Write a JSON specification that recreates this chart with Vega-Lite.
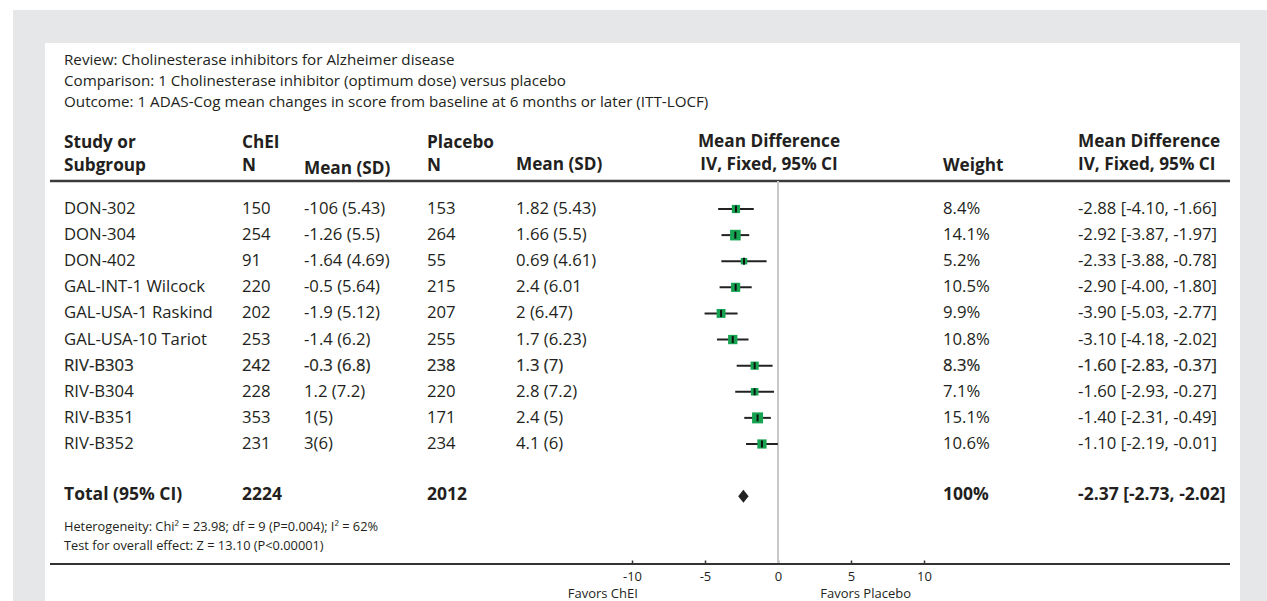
{
  "$schema": "https://vega.github.io/schema/vega-lite/v6.json",
  "background": "white",
  "padding": {"left": 13, "top": 10, "right": 0, "bottom": 0},
  "config": {
    "view": {"stroke": null},
    "concat": {"spacing": 0},
    "axis": {"grid": false, "domain": false},
    "text": {"font": "Open Sans", "color": "#231f20", "align": "left", "baseline": "middle"}
  },
  "datasets": {
    "rows": [
      {"id": "r1", "study": "DON-302", "n1": "150", "m1": "-106 (5.43)", "n2": "153", "m2": "1.82 (5.43)", "w": 8.4, "wt": "8.4%", "md": -2.88, "lo": -4.10, "hi": -1.66, "ci": "-2.88 [-4.10, -1.66]"},
      {"id": "r2", "study": "DON-304", "n1": "254", "m1": "-1.26 (5.5)", "n2": "264", "m2": "1.66 (5.5)", "w": 14.1, "wt": "14.1%", "md": -2.92, "lo": -3.87, "hi": -1.97, "ci": "-2.92 [-3.87, -1.97]"},
      {"id": "r3", "study": "DON-402", "n1": "91", "m1": "-1.64 (4.69)", "n2": "55", "m2": "0.69 (4.61)", "w": 5.2, "wt": "5.2%", "md": -2.33, "lo": -3.88, "hi": -0.78, "ci": "-2.33 [-3.88, -0.78]"},
      {"id": "r4", "study": "GAL-INT-1 Wilcock", "n1": "220", "m1": "-0.5 (5.64)", "n2": "215", "m2": "2.4 (6.01", "w": 10.5, "wt": "10.5%", "md": -2.90, "lo": -4.00, "hi": -1.80, "ci": "-2.90 [-4.00, -1.80]"},
      {"id": "r5", "study": "GAL-USA-1 Raskind", "n1": "202", "m1": "-1.9 (5.12)", "n2": "207", "m2": "2 (6.47)", "w": 9.9, "wt": "9.9%", "md": -3.90, "lo": -5.03, "hi": -2.77, "ci": "-3.90 [-5.03, -2.77]"},
      {"id": "r6", "study": "GAL-USA-10 Tariot", "n1": "253", "m1": "-1.4 (6.2)", "n2": "255", "m2": "1.7 (6.23)", "w": 10.8, "wt": "10.8%", "md": -3.10, "lo": -4.18, "hi": -2.02, "ci": "-3.10 [-4.18, -2.02]"},
      {"id": "r7", "study": "RIV-B303", "n1": "242", "m1": "-0.3 (6.8)", "n2": "238", "m2": "1.3 (7)", "w": 8.3, "wt": "8.3%", "md": -1.60, "lo": -2.83, "hi": -0.37, "ci": "-1.60 [-2.83, -0.37]"},
      {"id": "r8", "study": "RIV-B304", "n1": "228", "m1": "1.2 (7.2)", "n2": "220", "m2": "2.8 (7.2)", "w": 7.1, "wt": "7.1%", "md": -1.60, "lo": -2.93, "hi": -0.27, "ci": "-1.60 [-2.93, -0.27]"},
      {"id": "r9", "study": "RIV-B351", "n1": "353", "m1": "1(5)", "n2": "171", "m2": "2.4 (5)", "w": 15.1, "wt": "15.1%", "md": -1.40, "lo": -2.31, "hi": -0.49, "ci": "-1.40 [-2.31, -0.49]"},
      {"id": "r10", "study": "RIV-B352", "n1": "231", "m1": "3(6)", "n2": "234", "m2": "4.1 (6)", "w": 10.6, "wt": "10.6%", "md": -1.10, "lo": -2.19, "hi": -0.01, "ci": "-1.10 [-2.19, -0.01]"}
    ],
    "total": [
      {"id": "total", "study": "Total (95% CI)", "n1": "2224", "n2": "2012", "wt": "100%", "md": -2.37, "lo": -2.73, "hi": -2.02, "ci": "-2.37 [-2.73, -2.02]"}
    ],
    "title": [
      {"line": "t1", "text": "Review: Cholinesterase inhibitors for Alzheimer disease"},
      {"line": "t2", "text": "Comparison: 1 Cholinesterase inhibitor (optimum dose) versus placebo"},
      {"line": "t3", "text": "Outcome: 1 ADAS-Cog mean changes in score from baseline at 6 months or later (ITT-LOCF)"}
    ],
    "footer": [
      {"line": "f1", "text": "Heterogeneity: Chi² = 23.98; df = 9 (P=0.004); I² = 62%"},
      {"line": "f2", "text": "Test for overall effect: Z = 13.10 (P<0.00001)"}
    ],
    "headers": [
      {"col": "study", "line": "h1", "text": "Study or"},
      {"col": "study", "line": "h2", "text": "Subgroup"},
      {"col": "n1", "line": "h1", "text": "ChEI"},
      {"col": "n1", "line": "h2", "text": "N"},
      {"col": "m1", "line": "h2", "text": "Mean (SD)"},
      {"col": "n2", "line": "h1", "text": "Placebo"},
      {"col": "n2", "line": "h2", "text": "N"},
      {"col": "m2", "line": "h2", "text": "Mean (SD)"},
      {"col": "fp", "line": "h1", "text": "Mean Difference"},
      {"col": "fp", "line": "h2", "text": "IV, Fixed, 95% CI"},
      {"col": "wt", "line": "h2", "text": "Weight"},
      {"col": "ci", "line": "h1", "text": "Mean Difference"},
      {"col": "ci", "line": "h2", "text": "IV, Fixed, 95% CI"}
    ]
  },
  "spacing": 0,
  "bounds": "full",
  "resolve": {"scale": {"x": "independent", "y": "independent", "size": "independent"}},
  "vconcat": [
    {"width": 1254, "height": 33, "view": {"fill": "#e6e7e8", "stroke": null}, "data": {"values": []}, "mark": "text", "encoding": {}},
    {
      "spacing": 0,
      "bounds": "full",
      "resolve": {"scale": {"x": "independent", "y": "independent", "size": "independent"}},
      "hconcat": [
        {"width": 32, "height": 558, "view": {"fill": "#e6e7e8", "stroke": null}, "data": {"values": []}, "mark": "text", "encoding": {}},
        {
          "columns": 11,
          "spacing": 0,
          "bounds": "flush",
          "align": "each",
          "resolve": {"scale": {"x": "independent", "y": "independent", "size": "independent"}},
          "concat": [
            {"width": 5, "height": 138, "data": {"values": []}, "mark": "text", "encoding": {}},
            {"width": 14, "height": 138, "data": {"values": [{}]}, "mark": {"type": "rule", "color": "#3a3a3a", "strokeWidth": 2.5}, "encoding": {"y": {"value": "height"}}},
            {
              "width": 178, "height": 138,
              "resolve": {"scale": {"y": "independent"}},
              "layer": [
                {"data": {"name": "title"}, "mark": {"type": "text", "fontSize": 15.2},
                 "encoding": {"x": {"value": 0}, "y": {"field": "line", "type": "nominal", "scale": {"type": "point", "domain": ["t1", "t2", "t3"], "range": [17, 59], "padding": 0}, "axis": null}, "text": {"field": "text"}}},
                {"data": {"name": "headers"}, "transform": [{"filter": "datum.col == 'study'"}], "mark": {"type": "text", "fontSize": 17.2, "fontWeight": "bold"},
                 "encoding": {"x": {"value": 0}, "y": {"field": "line", "type": "nominal", "scale": {"type": "point", "domain": ["h1", "h2"], "range": [100, 123], "padding": 0}, "axis": null}, "text": {"field": "text"}}},
                {"data": {"values": [{}]}, "mark": {"type": "rule", "color": "#3a3a3a", "strokeWidth": 2.5}, "encoding": {"y": {"value": "height"}}}
              ]
            },
            {
              "width": 62, "height": 138,
              "layer": [
                {"data": {"name": "headers"}, "transform": [{"filter": "datum.col == 'n1'"}], "mark": {"type": "text", "fontSize": 17.2, "fontWeight": "bold"},
                 "encoding": {"x": {"value": 0}, "y": {"field": "line", "type": "nominal", "scale": {"type": "point", "domain": ["h1", "h2"], "range": [100, 123], "padding": 0}, "axis": null}, "text": {"field": "text"}}},
                {"data": {"values": [{}]}, "mark": {"type": "rule", "color": "#3a3a3a", "strokeWidth": 2.5}, "encoding": {"y": {"value": "height"}}}
              ]
            },
            {
              "width": 123, "height": 138,
              "layer": [
                {"data": {"name": "headers"}, "transform": [{"filter": "datum.col == 'm1'"}], "mark": {"type": "text", "fontSize": 17.2, "fontWeight": "bold", "dy": 3},
                 "encoding": {"x": {"value": 0}, "y": {"field": "line", "type": "nominal", "scale": {"type": "point", "domain": ["h1", "h2"], "range": [100, 123], "padding": 0}, "axis": null}, "text": {"field": "text"}}},
                {"data": {"values": [{}]}, "mark": {"type": "rule", "color": "#3a3a3a", "strokeWidth": 2.5}, "encoding": {"y": {"value": "height"}}}
              ]
            },
            {
              "width": 89, "height": 138,
              "layer": [
                {"data": {"name": "headers"}, "transform": [{"filter": "datum.col == 'n2'"}], "mark": {"type": "text", "fontSize": 17.2, "fontWeight": "bold"},
                 "encoding": {"x": {"value": 0}, "y": {"field": "line", "type": "nominal", "scale": {"type": "point", "domain": ["h1", "h2"], "range": [100, 123], "padding": 0}, "axis": null}, "text": {"field": "text"}}},
                {"data": {"values": [{}]}, "mark": {"type": "rule", "color": "#3a3a3a", "strokeWidth": 2.5}, "encoding": {"y": {"value": "height"}}}
              ]
            },
            {
              "width": 89, "height": 138,
              "layer": [
                {"data": {"name": "headers"}, "transform": [{"filter": "datum.col == 'm2'"}], "mark": {"type": "text", "fontSize": 17.2, "fontWeight": "bold", "dy": -1},
                 "encoding": {"x": {"value": 0}, "y": {"field": "line", "type": "nominal", "scale": {"type": "point", "domain": ["h1", "h2"], "range": [100, 123], "padding": 0}, "axis": null}, "text": {"field": "text"}}},
                {"data": {"values": [{}]}, "mark": {"type": "rule", "color": "#3a3a3a", "strokeWidth": 2.5}, "encoding": {"y": {"value": "height"}}}
              ]
            },
            {
              "width": 338, "height": 138,
              "layer": [
                {"data": {"name": "headers"}, "transform": [{"filter": "datum.col == 'fp'"}], "mark": {"type": "text", "fontSize": 17.2, "fontWeight": "bold", "align": "center", "dx": -5, "dy": -1},
                 "encoding": {"y": {"field": "line", "type": "nominal", "scale": {"type": "point", "domain": ["h1", "h2"], "range": [100, 123], "padding": 0}, "axis": null}, "text": {"field": "text"}}},
                {"data": {"values": [{}]}, "mark": {"type": "rule", "color": "#3a3a3a", "strokeWidth": 2.5}, "encoding": {"y": {"value": "height"}}}
              ]
            },
            {
              "width": 135, "height": 138,
              "layer": [
                {"data": {"name": "headers"}, "transform": [{"filter": "datum.col == 'wt'"}], "mark": {"type": "text", "fontSize": 17.2, "fontWeight": "bold"},
                 "encoding": {"x": {"value": 0}, "y": {"field": "line", "type": "nominal", "scale": {"type": "point", "domain": ["h1", "h2"], "range": [100, 123], "padding": 0}, "axis": null}, "text": {"field": "text"}}},
                {"data": {"values": [{}]}, "mark": {"type": "rule", "color": "#3a3a3a", "strokeWidth": 2.5}, "encoding": {"y": {"value": "height"}}}
              ]
            },
            {
              "width": 152, "height": 138,
              "layer": [
                {"data": {"name": "headers"}, "transform": [{"filter": "datum.col == 'ci'"}], "mark": {"type": "text", "fontSize": 17.2, "fontWeight": "bold", "dy": -1},
                 "encoding": {"x": {"value": 0}, "y": {"field": "line", "type": "nominal", "scale": {"type": "point", "domain": ["h1", "h2"], "range": [100, 123], "padding": 0}, "axis": null}, "text": {"field": "text"}}},
                {"data": {"values": [{}]}, "mark": {"type": "rule", "color": "#3a3a3a", "strokeWidth": 2.5}, "encoding": {"y": {"value": "height"}}}
              ]
            },
            {"width": 10, "height": 138, "data": {"values": []}, "mark": "text", "encoding": {}},

            {"width": 5, "height": 383, "data": {"values": []}, "mark": "text", "encoding": {}},
            {"width": 14, "height": 383, "data": {"values": [{}]}, "mark": {"type": "rule", "color": "#333333", "strokeWidth": 2}, "encoding": {"y": {"value": "height"}}},
            {
              "width": 178, "height": 383,
              "resolve": {"scale": {"y": "independent"}},
              "layer": [
                {"data": {"name": "rows"}, "mark": {"type": "text", "fontSize": 16.7, "stroke": "#231f20"},
                 "encoding": {"x": {"value": 0}, "y": {"field": "id", "type": "nominal", "scale": {"type": "point", "domain": ["r1", "r2", "r3", "r4", "r5", "r6", "r7", "r8", "r9", "r10", "gap", "total"], "range": [28, 315.2], "padding": 0}, "axis": null}, "text": {"field": "study"}, "strokeWidth": {"condition": {"test": "datum.id == 'r7'", "value": 0.2}, "value": 0}}},
                {"data": {"name": "total"}, "mark": {"type": "text", "fontSize": 17.5, "fontWeight": "bold", "dy": -1},
                 "encoding": {"x": {"value": 0}, "y": {"field": "id", "type": "nominal", "scale": {"type": "point", "domain": ["r1", "r2", "r3", "r4", "r5", "r6", "r7", "r8", "r9", "r10", "gap", "total"], "range": [28, 315.2], "padding": 0}, "axis": null}, "text": {"field": "study"}}},
                {"data": {"name": "footer"}, "mark": {"type": "text", "fontSize": 12.8},
                 "encoding": {"x": {"value": 0}, "y": {"field": "line", "type": "nominal", "scale": {"type": "point", "domain": ["f1", "f2"], "range": [346, 365], "padding": 0}, "axis": null}, "text": {"field": "text"}}},
                {"data": {"values": [{}]}, "mark": {"type": "rule", "color": "#333333", "strokeWidth": 2}, "encoding": {"y": {"value": "height"}}}
              ]
            },
            {
              "width": 62, "height": 383,
              "layer": [
                {"data": {"name": "rows"}, "mark": {"type": "text", "fontSize": 16.7, "stroke": "#231f20"},
                 "encoding": {"x": {"value": 0}, "y": {"field": "id", "type": "nominal", "scale": {"type": "point", "domain": ["r1", "r2", "r3", "r4", "r5", "r6", "r7", "r8", "r9", "r10", "gap", "total"], "range": [28, 315.2], "padding": 0}, "axis": null}, "text": {"field": "n1"}, "strokeWidth": {"condition": {"test": "datum.id == 'r7'", "value": 0.2}, "value": 0}}},
                {"data": {"name": "total"}, "mark": {"type": "text", "fontSize": 17.5, "fontWeight": "bold", "dy": -1},
                 "encoding": {"x": {"value": 0}, "y": {"field": "id", "type": "nominal", "scale": {"type": "point", "domain": ["r1", "r2", "r3", "r4", "r5", "r6", "r7", "r8", "r9", "r10", "gap", "total"], "range": [28, 315.2], "padding": 0}, "axis": null}, "text": {"field": "n1"}}},
                {"data": {"values": [{}]}, "mark": {"type": "rule", "color": "#333333", "strokeWidth": 2}, "encoding": {"y": {"value": "height"}}}
              ]
            },
            {
              "width": 123, "height": 383,
              "layer": [
                {"data": {"name": "rows"}, "mark": {"type": "text", "fontSize": 16.7, "stroke": "#231f20"},
                 "encoding": {"x": {"value": 0}, "y": {"field": "id", "type": "nominal", "scale": {"type": "point", "domain": ["r1", "r2", "r3", "r4", "r5", "r6", "r7", "r8", "r9", "r10", "gap", "total"], "range": [28, 315.2], "padding": 0}, "axis": null}, "text": {"field": "m1"}, "strokeWidth": {"condition": {"test": "datum.id == 'r7'", "value": 0.2}, "value": 0}}},
                {"data": {"values": [{}]}, "mark": {"type": "rule", "color": "#333333", "strokeWidth": 2}, "encoding": {"y": {"value": "height"}}}
              ]
            },
            {
              "width": 89, "height": 383,
              "layer": [
                {"data": {"name": "rows"}, "mark": {"type": "text", "fontSize": 16.7, "stroke": "#231f20"},
                 "encoding": {"x": {"value": 0}, "y": {"field": "id", "type": "nominal", "scale": {"type": "point", "domain": ["r1", "r2", "r3", "r4", "r5", "r6", "r7", "r8", "r9", "r10", "gap", "total"], "range": [28, 315.2], "padding": 0}, "axis": null}, "text": {"field": "n2"}, "strokeWidth": {"condition": {"test": "datum.id == 'r7'", "value": 0.2}, "value": 0}}},
                {"data": {"name": "total"}, "mark": {"type": "text", "fontSize": 17.5, "fontWeight": "bold", "dy": -1},
                 "encoding": {"x": {"value": 0}, "y": {"field": "id", "type": "nominal", "scale": {"type": "point", "domain": ["r1", "r2", "r3", "r4", "r5", "r6", "r7", "r8", "r9", "r10", "gap", "total"], "range": [28, 315.2], "padding": 0}, "axis": null}, "text": {"field": "n2"}}},
                {"data": {"values": [{}]}, "mark": {"type": "rule", "color": "#333333", "strokeWidth": 2}, "encoding": {"y": {"value": "height"}}}
              ]
            },
            {
              "width": 89, "height": 383,
              "layer": [
                {"data": {"name": "rows"}, "mark": {"type": "text", "fontSize": 16.7, "stroke": "#231f20"},
                 "encoding": {"x": {"value": 0}, "y": {"field": "id", "type": "nominal", "scale": {"type": "point", "domain": ["r1", "r2", "r3", "r4", "r5", "r6", "r7", "r8", "r9", "r10", "gap", "total"], "range": [28, 315.2], "padding": 0}, "axis": null}, "text": {"field": "m2"}, "strokeWidth": {"condition": {"test": "datum.id == 'r7'", "value": 0.2}, "value": 0}}},
                {"data": {"values": [{}]}, "mark": {"type": "rule", "color": "#333333", "strokeWidth": 2}, "encoding": {"y": {"value": "height"}}}
              ]
            },
            {
              "width": 338, "height": 383,
              "layer": [
                {"data": {"values": [{}]}, "mark": {"type": "rule", "color": "#c8c8c8", "strokeWidth": 2},
                 "encoding": {"x": {"datum": 0, "type": "quantitative", "scale": {"domain": [-11.849, 11.301], "nice": false, "zero": false},
                   "axis": {"values": [-10, -5, 0, 5, 10], "title": null, "domain": false, "grid": false, "ticks": true, "tickSize": 4, "tickWidth": 1.5, "tickColor": "#333333", "offset": -4, "labelPadding": 6.5, "labelFont": "Open Sans", "labelFontSize": 13, "labelColor": "#231f20", "labelExpr": "'' + datum.value", "labelFlush": false, "labelOverlap": false}}}},
                {"data": {"name": "rows"}, "mark": {"type": "rule", "color": "#222222", "strokeWidth": 2},
                 "encoding": {"x": {"field": "lo", "type": "quantitative"}, "x2": {"field": "hi"}, "y": {"field": "id", "type": "nominal", "scale": {"type": "point", "domain": ["r1", "r2", "r3", "r4", "r5", "r6", "r7", "r8", "r9", "r10", "gap", "total"], "range": [28, 315.2], "padding": 0}, "axis": null}}},
                {"data": {"name": "rows"}, "mark": {"type": "point", "shape": "square", "filled": true, "color": "#16a452", "opacity": 1},
                 "encoding": {"x": {"field": "md", "type": "quantitative"}, "y": {"field": "id", "type": "nominal", "axis": null}, "size": {"field": "w", "type": "quantitative", "scale": {"domain": [0, 15.1], "range": [0, 121]}, "legend": null}}},
                {"data": {"name": "rows"}, "mark": {"type": "tick", "color": "#111111", "thickness": 2, "size": 7, "opacity": 1},
                 "encoding": {"x": {"field": "md", "type": "quantitative"}, "y": {"field": "id", "type": "nominal", "axis": null}}},
                {"data": {"name": "total"}, "mark": {"type": "point", "shape": "M-0.8,0L0,-1L0.8,0L0,1Z", "filled": true, "color": "#222222", "opacity": 1, "size": 169},
                 "encoding": {"x": {"field": "md", "type": "quantitative"}, "y": {"field": "id", "type": "nominal", "axis": null}}},
                {"data": {"values": [{}]}, "mark": {"type": "text", "fontSize": 13, "align": "center", "dy": 30, "text": "Favors ChEI"},
                 "encoding": {"x": {"datum": -12, "type": "quantitative"}, "y": {"value": "height"}}},
                {"data": {"values": [{}]}, "mark": {"type": "text", "fontSize": 13, "align": "center", "dy": 30, "text": "Favors Placebo"},
                 "encoding": {"x": {"datum": 6, "type": "quantitative"}, "y": {"value": "height"}}},
                {"data": {"values": [{}]}, "mark": {"type": "rule", "color": "#333333", "strokeWidth": 2}, "encoding": {"y": {"value": "height"}}}
              ]
            },
            {
              "width": 135, "height": 383,
              "layer": [
                {"data": {"name": "rows"}, "mark": {"type": "text", "fontSize": 16.7, "stroke": "#231f20"},
                 "encoding": {"x": {"value": 0}, "y": {"field": "id", "type": "nominal", "scale": {"type": "point", "domain": ["r1", "r2", "r3", "r4", "r5", "r6", "r7", "r8", "r9", "r10", "gap", "total"], "range": [28, 315.2], "padding": 0}, "axis": null}, "text": {"field": "wt"}, "strokeWidth": {"condition": {"test": "datum.id == 'r7'", "value": 0.2}, "value": 0}}},
                {"data": {"name": "total"}, "mark": {"type": "text", "fontSize": 17.5, "fontWeight": "bold", "dy": -1},
                 "encoding": {"x": {"value": 0}, "y": {"field": "id", "type": "nominal", "scale": {"type": "point", "domain": ["r1", "r2", "r3", "r4", "r5", "r6", "r7", "r8", "r9", "r10", "gap", "total"], "range": [28, 315.2], "padding": 0}, "axis": null}, "text": {"field": "wt"}}},
                {"data": {"values": [{}]}, "mark": {"type": "rule", "color": "#333333", "strokeWidth": 2}, "encoding": {"y": {"value": "height"}}}
              ]
            },
            {
              "width": 152, "height": 383,
              "layer": [
                {"data": {"name": "rows"}, "mark": {"type": "text", "fontSize": 16.7, "stroke": "#231f20"},
                 "encoding": {"x": {"value": 0}, "y": {"field": "id", "type": "nominal", "scale": {"type": "point", "domain": ["r1", "r2", "r3", "r4", "r5", "r6", "r7", "r8", "r9", "r10", "gap", "total"], "range": [28, 315.2], "padding": 0}, "axis": null}, "text": {"field": "ci"}, "strokeWidth": {"condition": {"test": "datum.id == 'r7'", "value": 0.2}, "value": 0}}},
                {"data": {"name": "total"}, "mark": {"type": "text", "fontSize": 17.5, "fontWeight": "bold", "dy": -1},
                 "encoding": {"x": {"value": 0}, "y": {"field": "id", "type": "nominal", "scale": {"type": "point", "domain": ["r1", "r2", "r3", "r4", "r5", "r6", "r7", "r8", "r9", "r10", "gap", "total"], "range": [28, 315.2], "padding": 0}, "axis": null}, "text": {"field": "ci"}}},
                {"data": {"values": [{}]}, "mark": {"type": "rule", "color": "#333333", "strokeWidth": 2}, "encoding": {"y": {"value": "height"}}}
              ]
            },
            {"width": 10, "height": 383, "data": {"values": []}, "mark": "text", "encoding": {}}
          ]
        },
        {"width": 27, "height": 558, "view": {"fill": "#e6e7e8", "stroke": null}, "data": {"values": []}, "mark": "text", "encoding": {}}
      ]
    }
  ]
}
